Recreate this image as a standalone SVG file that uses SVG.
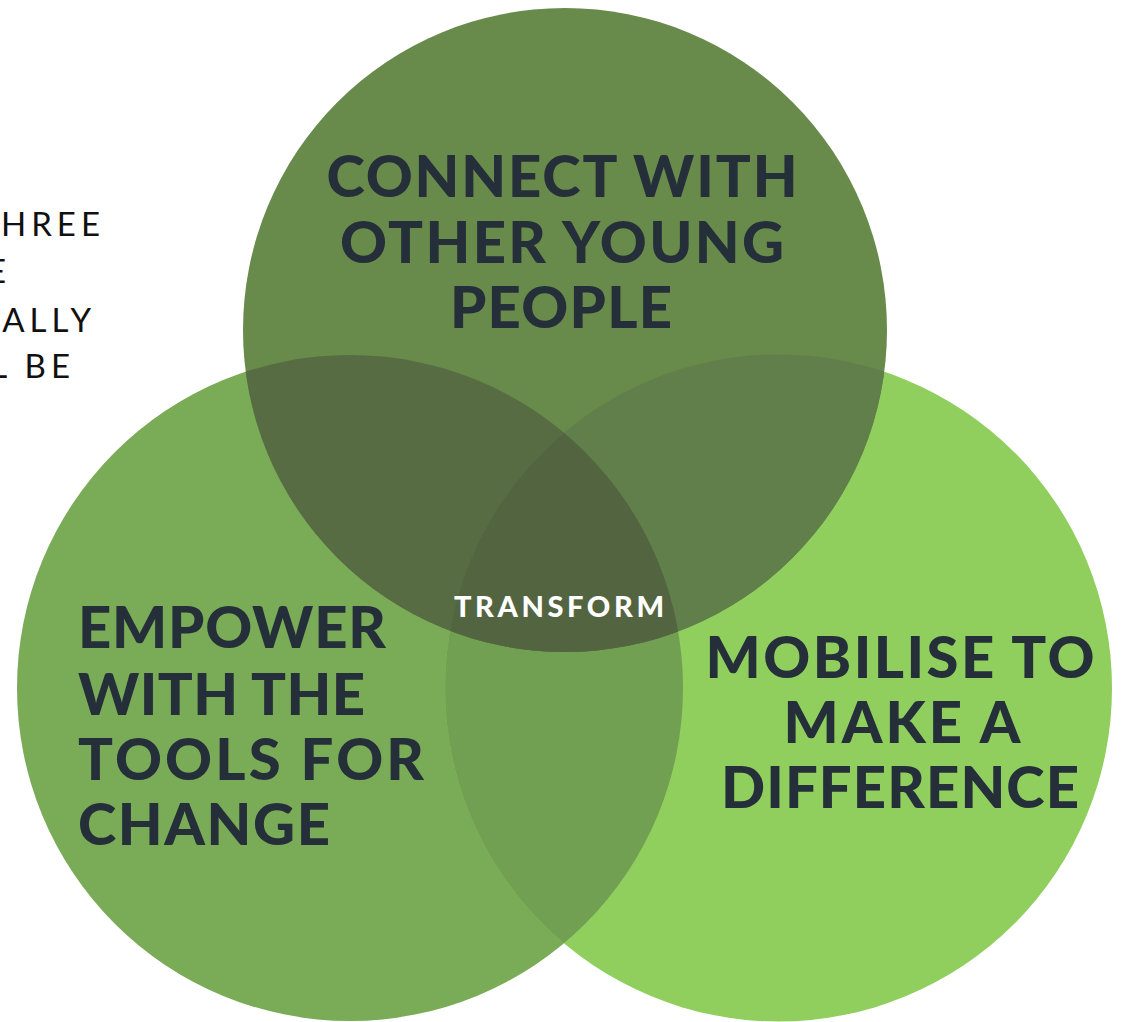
<svg xmlns="http://www.w3.org/2000/svg" width="1123" height="1022" viewBox="0 0 1123 1022">
  <style>
    .label { font-family: Lato, "Liberation Sans", sans-serif; font-weight: 900; font-size: 58px; fill: #252f3a; }
    .center { font-family: Lato, "Liberation Sans", sans-serif; font-weight: 900; font-size: 29px; fill: #ffffff; }
    .side { font-family: Lato, "Liberation Sans", sans-serif; font-weight: 400; font-size: 33px; fill: #111111; letter-spacing: 5px; }
  </style>
  <defs>
    <clipPath id="clipTop"><circle cx="565" cy="330" r="322"/></clipPath>
    <clipPath id="clipLeft"><circle cx="350" cy="688" r="333"/></clipPath>
    <clipPath id="clipRight"><circle cx="778.5" cy="688" r="333.5"/></clipPath>
  </defs>
  <rect width="1123" height="1022" fill="#ffffff"/>

  <g id="side-text">
    <text class="side" x="105" y="236" text-anchor="end">HREE</text>
    <text class="side" x="11" y="283" text-anchor="end">E</text>
    <text class="side" x="96" y="332" text-anchor="end">ALLY</text>
    <text class="side" x="75" y="378" text-anchor="end">L BE</text>
  </g>

  <g id="node-empower">
    <circle cx="350" cy="688" r="333" fill="#7aab56"/>
  </g>
  <g id="node-mobilise">
    <circle cx="778.5" cy="688" r="333.5" fill="#90cf5e"/>
  </g>
  <g id="overlap-left-right">
    <circle cx="778.5" cy="688" r="333.5" fill="#72a052" clip-path="url(#clipLeft)"/>
  </g>
  <g id="node-connect">
    <circle cx="565" cy="330" r="322" fill="#688a4b"/>
  </g>
  <g id="overlap-top-left">
    <circle cx="350" cy="688" r="333" fill="#576c43" clip-path="url(#clipTop)"/>
  </g>
  <g id="overlap-top-right">
    <circle cx="778.5" cy="688" r="333.5" fill="#617f4a" clip-path="url(#clipTop)"/>
  </g>
  <g id="overlap-all" clip-path="url(#clipTop)">
    <circle cx="350" cy="688" r="333" fill="#536441" clip-path="url(#clipRight)"/>
  </g>

  <g id="connectors"/>

  <g id="label-connect">
    <text class="label" x="562" y="197" text-anchor="middle" textLength="471" lengthAdjust="spacing">CONNECT WITH</text>
    <text class="label" x="562" y="263" text-anchor="middle" textLength="444" lengthAdjust="spacing">OTHER YOUNG</text>
    <text class="label" x="561" y="328" text-anchor="middle" textLength="222" lengthAdjust="spacing">PEOPLE</text>
  </g>
  <g id="label-empower">
    <text class="label" x="78" y="648" textLength="308" lengthAdjust="spacing">EMPOWER</text>
    <text class="label" x="78" y="715" textLength="287" lengthAdjust="spacing">WITH THE</text>
    <text class="label" x="78" y="780" textLength="346" lengthAdjust="spacing">TOOLS FOR</text>
    <text class="label" x="78" y="845" textLength="252" lengthAdjust="spacing">CHANGE</text>
  </g>
  <g id="label-mobilise">
    <text class="label" x="900" y="678" text-anchor="middle" textLength="389" lengthAdjust="spacing">MOBILISE TO</text>
    <text class="label" x="902" y="743" text-anchor="middle" textLength="237" lengthAdjust="spacing">MAKE A</text>
    <text class="label" x="900" y="808" text-anchor="middle" textLength="358" lengthAdjust="spacing">DIFFERENCE</text>
  </g>
  <g id="label-transform">
    <text class="center" x="559" y="617" text-anchor="middle" textLength="210" lengthAdjust="spacing">TRANSFORM</text>
  </g>
</svg>
